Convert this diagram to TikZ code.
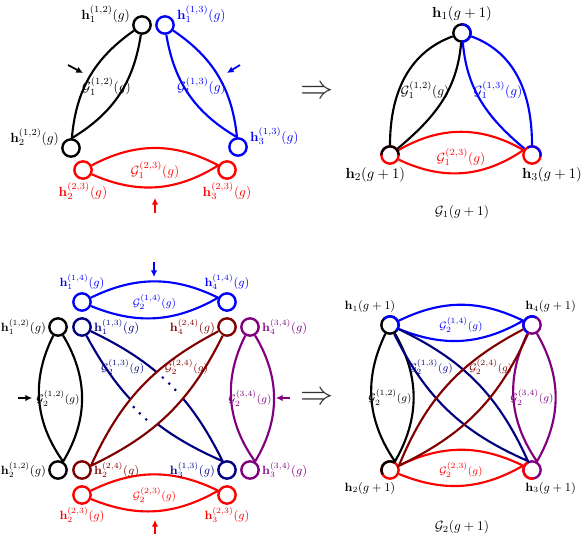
\documentclass[tikz,border=0pt]{standalone}
\usepackage{amsmath, amssymb}
\usepackage{tikz}
\usepackage{xcolor}
\usetikzlibrary{calc, arrows.meta}

\definecolor{hnavy}{RGB}{0,0,128}
\definecolor{hmaroon}{RGB}{128,0,0}
\definecolor{hpurple}{RGB}{128,0,128}

\begin{document}
\begin{tikzpicture}[x=0.75pt, y=0.75pt,
    vert/.style={circle, draw, line width=1.8pt, minimum size=13pt, inner sep=0pt},
    lens/.style={line width=1.6pt},
    ptr/.style={line width=1.3pt, -{Latex[length=5pt, width=5pt]}},
    hlab/.style={inner sep=1.5pt},
    blab/.style={inner sep=1.5pt, font=\fontsize{11}{13}\selectfont},
    slab/.style={inner sep=1.5pt, font=\small},
    glab/.style={inner sep=1pt, font=\fontsize{8.5}{10}\selectfont},
    flab/.style={inner sep=1pt, font=\footnotesize},
    imp/.style={text=black!80, font=\fontsize{23}{28}\selectfont}]
  \useasboundingbox (0,0) rectangle (582,536);

  % step g, three pairs
  \node[vert, black] (a12) at (142,511) {};
  \node[vert, blue] (a13) at (165,511) {};
  \node[vert, black] (b12) at (71,388) {};
  \node[vert, blue] (c13) at (238,389) {};
  \node[vert, red] (b23) at (83,366) {};
  \node[vert, red] (c23) at (227,366) {};

  \draw[lens, black] (a12) to[bend right=25] (b12) to[bend right=25] (a12);
  \draw[lens, blue] (a13) to[bend left=25] (c13) to[bend left=25] (a13);
  \draw[lens, red] (b23) to[bend left=28] (c23) to[bend left=28] (b23);

  \node[hlab, black, anchor=south east] (la12) at (a12.west) {$\mathbf{h}_1^{(1,2)}(g)$};
  \node[hlab, blue, anchor=south west] (la13) at (a13.east) {$\mathbf{h}_1^{(1,3)}(g)$};
  \node[hlab, black, anchor=south east] (lb12) at (b12.west) {$\mathbf{h}_2^{(1,2)}(g)$};
  \node[hlab, blue, anchor=south west] (lc13) at (c13.east) {$\mathbf{h}_3^{(1,3)}(g)$};
  \node[hlab, red, anchor=north] (lb23) at (b23.south) {$\mathbf{h}_2^{(2,3)}(g)$};
  \node[hlab, red, anchor=north] (lc23) at (c23.south) {$\mathbf{h}_3^{(2,3)}(g)$};

  \node[hlab, black] (ga12) at ($(a12)!.5!(b12)$) {$\mathcal{G}_1^{(1,2)}(g)$};
  \node[hlab, blue] (ga13) at ($(a13)!.5!(c13)$) {$\mathcal{G}_1^{(1,3)}(g)$};
  \node[hlab, red] (gb23) at ($(b23)!.5!(c23)$) {$\mathcal{G}_1^{(2,3)}(g)$};

  \draw[ptr, black] (68,471) -- (83,463);
  \draw[ptr, blue] (240,471) -- (227,463);
  \draw[ptr, red] (155,323) -- (155,338);

  \node[imp] (imp1) at (317,444) {$\Rightarrow$};

  % step g+1, merged triangle
  \node[vert, black] (t1) at (462,503) {};
  \node[vert, red] (t2) at (390,381) {};
  \node[vert, red] (t3) at (532,381) {};

  \draw[lens, black] (t1) to[out=200, in=90] (t2);
  \draw[lens, black] (t1) to[out=265, in=40] (t2);
  \draw[lens, blue] (t1) to[out=-20, in=90] (t3);
  \draw[lens, blue] (t1) to[out=275, in=140] (t3);
  \draw[lens, red] (t2) to[bend left=30] (t3) to[bend left=30] (t2);

  \draw[blue, line width=1.8pt] ([shift={(-90:6.5pt)}]t1.center) arc[start angle=-90, end angle=90, radius=6.5pt];
  \draw[black, line width=1.8pt] ([shift={(0:6.5pt)}]t2.center) arc[start angle=0, end angle=180, radius=6.5pt];
  \draw[blue, line width=1.8pt] ([shift={(-10:6.5pt)}]t3.center) arc[start angle=-10, end angle=120, radius=6.5pt];

  \node[blab, anchor=south] (lt1) at (t1.north) {$\mathbf{h}_1(g+1)$};
  \node[blab, anchor=north, xshift=-11pt] (lt2) at (t2.south) {$\mathbf{h}_2(g+1)$};
  \node[blab, anchor=north, xshift=15pt] (lt3) at (t3.south) {$\mathbf{h}_3(g+1)$};
  \node[hlab, black] (gt12) at (425,446) {$\mathcal{G}_1^{(1,2)}(g)$};
  \node[hlab, blue] (gt13) at (498,446) {$\mathcal{G}_1^{(1,3)}(g)$};
  \node[hlab, red] (gt23) at (461,379) {$\mathcal{G}_1^{(2,3)}(g)$};
  \node[hlab] (cap1) at (462,324) {$\mathcal{G}_1(g+1)$};

  % step g, six pairs
  \node[vert, blue] (p1) at (82,234) {};
  \node[vert, blue] (p4) at (227,234) {};
  \node[vert, black] (q1) at (58,209) {};
  \node[vert, hnavy] (r1) at (82,209) {};
  \node[vert, hmaroon] (s4) at (227,209) {};
  \node[vert, hpurple] (u4) at (250,209) {};
  \node[vert, black] (q2) at (58,66) {};
  \node[vert, hmaroon] (s2) at (82,66) {};
  \node[vert, hnavy] (r3) at (227,66) {};
  \node[vert, hpurple] (u3) at (250,66) {};
  \node[vert, red] (v2) at (82,41) {};
  \node[vert, red] (v3) at (227,41) {};

  \draw[lens, blue] (p1) to[bend left=26] (p4) to[bend left=26] (p1);
  \draw[lens, black] (q1) to[bend left=31] (q2) to[bend left=31] (q1);
  \draw[lens, hpurple] (u4) to[bend left=31] (u3) to[bend left=31] (u4);
  \draw[lens, red] (v2) to[bend left=26] (v3) to[bend left=26] (v2);
  \draw[lens, hnavy] (r1) to[bend left=19] (r3) to[bend left=19] (r1);
  \draw[lens, hmaroon, fill=white] (s4) to[bend left=19] (s2) to[bend left=19] (s4);

  \path (r1) to[bend left=19] coordinate[pos=.45] (d1) coordinate[pos=.5] (d2) coordinate[pos=.55] (d3) (r3);
  \path (r3) to[bend left=19] coordinate[pos=.45] (d4) coordinate[pos=.5] (d5) coordinate[pos=.55] (d6) (r1);
  \foreach \d in {d1,d2,d3,d4,d5,d6}
    \fill[hnavy] (\d) circle (1.1pt);

  \node[slab, blue, anchor=south] (lp1) at (p1.north) {$\mathbf{h}_1^{(1,4)}(g)$};
  \node[slab, blue, anchor=south] (lp4) at (p4.north) {$\mathbf{h}_4^{(1,4)}(g)$};
  \node[slab, black, anchor=east] (lq1) at (q1.west) {$\mathbf{h}_1^{(1,2)}(g)$};
  \node[slab, hnavy, anchor=west] (lr1) at (r1.east) {$\mathbf{h}_1^{(1,3)}(g)$};
  \node[slab, hmaroon, anchor=east] (ls4) at (s4.west) {$\mathbf{h}_4^{(2,4)}(g)$};
  \node[slab, hpurple, anchor=west] (lu4) at (u4.east) {$\mathbf{h}_4^{(3,4)}(g)$};
  \node[slab, black, anchor=east] (lq2) at (q2.west) {$\mathbf{h}_2^{(1,2)}(g)$};
  \node[slab, hmaroon, anchor=west] (ls2) at (s2.east) {$\mathbf{h}_2^{(2,4)}(g)$};
  \node[slab, hnavy, anchor=east] (lr3) at (r3.west) {$\mathbf{h}_3^{(1,3)}(g)$};
  \node[slab, hpurple, anchor=west] (lu3) at (u3.east) {$\mathbf{h}_3^{(3,4)}(g)$};
  \node[slab, red, anchor=north] (lv2) at (v2.south) {$\mathbf{h}_2^{(2,3)}(g)$};
  \node[slab, red, anchor=north] (lv3) at (v3.south) {$\mathbf{h}_3^{(2,3)}(g)$};

  \node[glab, blue] (gp14) at ($(p1)!.5!(p4)$) {$\mathcal{G}_2^{(1,4)}(g)$};
  \node[glab, black] (gq12) at ($(q1)!.5!(q2)$) {$\mathcal{G}_2^{(1,2)}(g)$};
  \node[glab, hpurple] (gu34) at ($(u4)!.5!(u3)$) {$\mathcal{G}_2^{(3,4)}(g)$};
  \node[glab, red] (gv23) at ($(v2)!.5!(v3)$) {$\mathcal{G}_2^{(2,3)}(g)$};
  \node[glab, hnavy] (gr13) at ($(r1)!.28!(r3)$) {$\mathcal{G}_2^{(1,3)}(g)$};
  \node[glab, hmaroon] (gs24) at ($(s4)!.28!(s2)$) {$\mathcal{G}_2^{(2,4)}(g)$};

  \draw[ptr, blue] (154,274) -- (154,259);
  \draw[ptr, black] (18,138) -- (32,138);
  \draw[ptr, hpurple] (290,138) -- (276,138);
  \draw[ptr, red] (155,2) -- (155,16);

  \node[imp] (imp2) at (317,138) {$\Rightarrow$};

  % step g+1, merged square
  \node[vert, black] (w1) at (390,211) {};
  \node[vert, hpurple] (w4) at (532,211) {};
  \node[vert, red] (w2) at (390,66) {};
  \node[vert, hpurple] (w3) at (532,66) {};

  \draw[lens, blue] (w1) to[bend left=26] (w4) to[bend left=26] (w1);
  \draw[lens, black] (w1) to[bend left=30] (w2) to[bend left=30] (w1);
  \draw[lens, hpurple] (w4) to[bend left=30] (w3) to[bend left=30] (w4);
  \draw[lens, red] (w2) to[bend left=26] (w3) to[bend left=26] (w2);
  \draw[lens, hnavy] (w1) to[bend left=20] (w3) to[bend left=20] (w1);
  \draw[lens, hmaroon] (w4) to[bend left=20] (w2) to[bend left=20] (w4);

  \draw[blue, line width=1.8pt] ([shift={(-45:6.5pt)}]w1.center) arc[start angle=-45, end angle=135, radius=6.5pt];
  \draw[blue, line width=1.8pt] ([shift={(60:6.5pt)}]w4.center) arc[start angle=60, end angle=240, radius=6.5pt];
  \draw[black, line width=1.8pt] ([shift={(60:6.5pt)}]w2.center) arc[start angle=60, end angle=210, radius=6.5pt];
  \draw[red, line width=1.8pt] ([shift={(120:6.5pt)}]w3.center) arc[start angle=120, end angle=280, radius=6.5pt];

  \node[slab, anchor=south, xshift=-15pt] (lw1) at (w1.north) {$\mathbf{h}_1(g+1)$};
  \node[slab, anchor=south, xshift=14pt] (lw4) at (w4.north) {$\mathbf{h}_4(g+1)$};
  \node[slab, anchor=north, xshift=-15pt] (lw2) at (w2.south) {$\mathbf{h}_2(g+1)$};
  \node[slab, anchor=north, xshift=14pt] (lw3) at (w3.south) {$\mathbf{h}_3(g+1)$};

  \node[flab, blue] (gw14) at ($(w1)!.5!(w4)$) {$\mathcal{G}_2^{(1,4)}(g)$};
  \node[flab, black] (gw12) at ($(w1)!.5!(w2)$) {$\mathcal{G}_2^{(1,2)}(g)$};
  \node[flab, hpurple] (gw34) at ($(w4)!.5!(w3)$) {$\mathcal{G}_2^{(3,4)}(g)$};
  \node[flab, red] (gw23) at ($(w2)!.5!(w3)$) {$\mathcal{G}_2^{(2,3)}(g)$};
  \node[flab, hnavy] (gw13) at ($(w1)!.29!(w3)$) {$\mathcal{G}_2^{(1,3)}(g)$};
  \node[flab, hmaroon] (gw24) at ($(w4)!.29!(w2)$) {$\mathcal{G}_2^{(2,4)}(g)$};
  \node[hlab] (cap2) at (462,9) {$\mathcal{G}_2(g+1)$};
\end{tikzpicture}
\end{document}
